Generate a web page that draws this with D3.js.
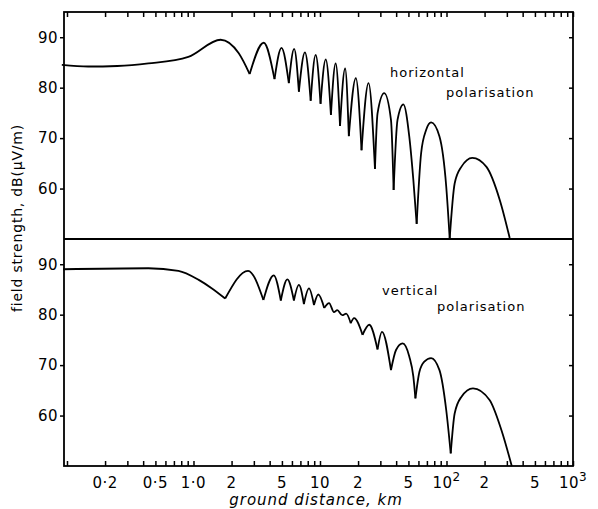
<html lang="en">
  <head>
    <title>Field strength vs ground distance</title>
    <script src="https://d3js.org/d3.v7.min.js"></script>
    <style>
    body { margin: 0; background: white; }
    .chart text {
      font-family: "DejaVu Sans", sans-serif;
      fill: black;
    }
    .chart .tick line { stroke: black; stroke-width: 1.5px; }
    .chart .domain { display: none; }
    </style>
  </head>
  <body>
    <svg class="chart"></svg>
    <script>
      // horizontal polarisation (upper panel), distance in km / field strength in dB
      var horizDist = [0.091, 0.147, 0.25, 0.44, 0.91, 1.64, 2.28, 2.78, 3.59, 4.37, 4.96, 5.67, 6.25, 6.81,
                       7.60, 8.44, 9.24, 10.1, 11.1, 12.2, 13.3, 14.4, 15.8, 16.9, 19.2, 21.3, 24.2, 27.2,
                       28.5, 32.2, 36.4, 38.2, 41.0, 45.6, 50.8, 54.7, 58.1, 63.0, 69.0, 75.6, 88, 99.5,
                       106, 116, 131, 160, 207, 264, 316];
      var horizDB   = [84.5, 84.2, 84.3, 84.8, 86.1, 89.5, 86.8, 82.7, 88.9, 81.7, 87.9, 80.9, 87.7, 79.2,
                       87.0, 77.4, 86.5, 76.8, 85.6, 74.6, 84.8, 72.4, 83.8, 70.4, 81.9, 67.6, 80.9, 63.9,
                       74.9, 78.9, 73.6, 59.7, 73.6, 76.7, 70.3, 61.7, 53.0, 67.0, 71.6, 73.1, 70.3, 60.4,
                       50.1, 61.0, 64.3, 66.1, 64.3, 57.7, 50.2];

      // vertical polarisation (lower panel)
      var vertDist = [0.093, 0.44, 0.76, 1.10, 1.40, 1.78, 2.70, 3.57, 4.31, 4.90, 5.52, 6.22, 6.81, 7.46,
                      8.18, 8.96, 9.70, 10.8, 11.8, 12.9, 13.7, 15.0, 16.1, 17.5, 18.6, 21.7, 24.5, 28.5,
                      30.9, 36.4, 39.9, 45.0, 50.8, 54.7, 56.8, 61.1, 66.8, 75.6, 88, 99.5, 108, 116,
                      131, 162, 219, 272, 328];
      var vertDB   = [89.0, 89.2, 88.7, 86.9, 85.2, 83.2, 88.7, 82.9, 87.8, 82.8, 87.0, 82.8, 85.9, 82.1,
                      85.2, 81.9, 84.0, 81.3, 82.3, 80.5, 80.9, 79.9, 80.2, 78.3, 79.3, 76.0, 78.0, 73.1,
                      76.6, 69.0, 73.0, 74.3, 71.7, 67.7, 63.4, 68.7, 70.7, 71.4, 69.0, 61.1, 52.5, 60.4,
                      63.7, 65.4, 63.1, 57.1, 50.0];

      var xTickValues = [0.2, 0.5, 1, 2, 5, 10, 20, 50, 100, 200, 500, 1000];
      var xTickLabels = ["0·2", "0·5", "1·0", "2", "5", "10", "2", "5", "10|2", "2", "5", "10|3"];
      var yTickValues = [60, 70, 80, 90];

      var width = 598, height = 509;
      var mLeft = 64, mRight = 573, mTop = 12, mMid = 239, mBottom = 466;

      var svg = d3.select(".chart")
                  .attr("width", width)
                  .attr("height", height);

      var x = d3.scaleLog().domain([0.0947, 1000]).range([mLeft, mRight]);
      var yTop = d3.scaleLinear().domain([50, 95]).range([mMid, mTop]);
      var yBot = d3.scaleLinear().domain([50, 95]).range([mBottom, mMid]);

      var minorTicks = x.ticks().filter(function(d) { return d > x.domain()[0]; });

      // inward ticks along top and bottom edges
      svg.append("g")
         .attr("transform", "translate(0," + mTop + ")")
         .call(d3.axisBottom(x).tickValues(minorTicks).tickSize(5).tickFormat(""));
      svg.append("g")
         .attr("transform", "translate(0," + mBottom + ")")
         .call(d3.axisTop(x).tickValues(minorTicks).tickSize(5).tickFormat(""));

      // y axes for both panels: labels outside on the left, plain ticks inside on the right
      [yTop, yBot].forEach(function(y) {
        svg.append("g")
           .attr("transform", "translate(" + mLeft + ",0)")
           .call(d3.axisLeft(y).tickValues(yTickValues).tickSize(4).tickPadding(2))
           .selectAll("text")
           .attr("font-size", 15)
           .attr("letter-spacing", "0.5px");
        svg.append("g")
           .attr("transform", "translate(" + mRight + ",0)")
           .call(d3.axisLeft(y).tickValues(yTickValues).tickSize(4).tickFormat(""));
      });

      // frame and panel divider
      svg.append("rect")
         .attr("x", mLeft).attr("y", mTop)
         .attr("width", mRight - mLeft).attr("height", mBottom - mTop)
         .attr("fill", "none").attr("stroke", "black").attr("stroke-width", 1.8);
      svg.append("line")
         .attr("x1", mLeft).attr("x2", mRight)
         .attr("y1", mMid).attr("y2", mMid)
         .attr("stroke", "black").attr("stroke-width", 1.8);

      // x tick labels with superscript powers of ten
      var xl = svg.selectAll(".xlab")
                  .data(xTickValues)
                .enter().append("text")
                  .attr("class", "xlab")
                  .attr("x", function(d) { return x(d); })
                  .attr("y", 488)
                  .attr("text-anchor", "middle")
                  .attr("font-size", 15)
                  .attr("letter-spacing", "0.5px");
      xl.each(function(d, i) {
        var parts = xTickLabels[i].split("|");
        var t = d3.select(this);
        t.append("tspan").text(parts[0]);
        if (parts[1]) {
          t.append("tspan").attr("dy", -7).attr("font-size", 12).text(parts[1]);
        }
      });

      // curves: each lobe drawn from null to null so nulls stay sharp
      function lobes(dist, db) {
        var pts = dist.map(function(d, i) { return [d, db[i]]; });
        var out = [], cur = [pts[0]];
        for (var i = 1; i < pts.length; i++) {
          cur.push(pts[i]);
          var isNull = i < pts.length - 1 &&
                       pts[i][1] < pts[i - 1][1] - 0.5 && pts[i][1] < pts[i + 1][1] - 0.5;
          if (isNull) { out.push(cur); cur = [pts[i]]; }
        }
        out.push(cur);
        return out;
      }

      function drawCurve(dist, db, y) {
        var line = d3.line()
                     .x(function(d) { return x(d[0]); })
                     .y(function(d) { return y(d[1]); })
                     .curve(d3.curveMonotoneX);
        svg.append("g").selectAll("path")
           .data(lobes(dist, db))
         .enter().append("path")
           .attr("d", line)
           .attr("fill", "none")
           .attr("stroke", "black")
           .attr("stroke-width", 1.8)
           .attr("stroke-linejoin", "round");
      }

      drawCurve(horizDist, horizDB, yTop);
      drawCurve(vertDist, vertDB, yBot);

      // annotations
      function note(txt, px, py) {
        svg.append("text")
           .attr("x", px).attr("y", py)
           .attr("font-size", 13)
           .attr("letter-spacing", "1px")
           .text(txt);
      }
      note("horizontal", 390, 77);
      note("polarisation", 446, 97);
      note("vertical", 382, 295);
      note("polarisation", 437, 311);

      // axis titles
      svg.append("text")
         .attr("transform", "translate(22,218) rotate(-90)")
         .attr("text-anchor", "middle")
         .attr("font-size", 14)
         .attr("letter-spacing", "0.8px")
         .text("field strength, dB(\u03bcV/m)");
      svg.append("text")
         .attr("x", 316).attr("y", 505)
         .attr("text-anchor", "middle")
         .attr("font-size", 15)
         .attr("font-style", "italic")
         .attr("letter-spacing", "1px")
         .text("ground distance, km");
    </script>
  </body>
</html>
